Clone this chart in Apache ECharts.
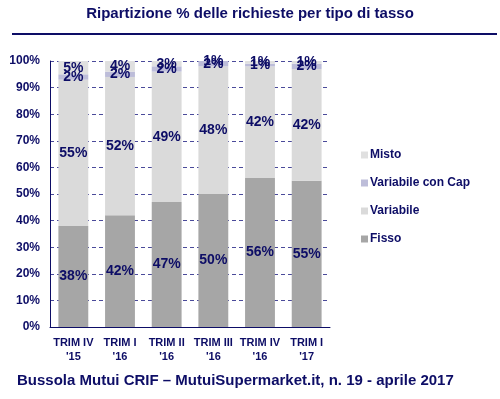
<!DOCTYPE html>
<html>
<head>
<meta charset="utf-8">
<script src="https://cdn.jsdelivr.net/npm/echarts@6/dist/echarts.min.js"></script>
<style>
  html, body { margin: 0; padding: 0; background: #fff; }
  #chart { width: 500px; height: 399px; }
</style>
</head>
<body>
<div id="chart"></div>
<script>
// Quarters on the x axis
const quarters = ["TRIM IV\n'15", "TRIM I\n'16", "TRIM II\n'16", "TRIM III\n'16", "TRIM IV\n'16", "TRIM I\n'17"];

// Share of requests by rate type (%)
const fisso = [38, 42, 47, 50, 56, 55];
const variabile = [55, 52, 49, 48, 42, 42];
const variabileCap = [2, 2, 2, 2, 1, 2];
const misto = [5, 4, 3, 1, 1, 1];

const yTicks = [0, 10, 20, 30, 40, 50, 60, 70, 80, 90, 100];

const navy = "#0d0d66";
const font = "'Liberation Sans', Arial, sans-serif";

const chart = echarts.init(document.getElementById("chart"));

const labelStyle = {
  show: true,
  position: "inside",
  formatter: "{c}%",
  color: navy,
  fontFamily: font,
  fontWeight: "bold",
  fontSize: 14,
};

function barSeries(name, data, color) {
  return {
    name: name,
    type: "bar",
    stack: "total",
    barWidth: "64%",
    data: data,
    itemStyle: { color: color },
    label: labelStyle,
  };
}

const option = {
  animation: false,
  textStyle: { fontFamily: font },
  grid: { left: 50, right: 170, top: 61, bottom: 72 },
  legend: {
    orient: "vertical",
    left: 356,
    top: 144,
    itemWidth: 7,
    itemHeight: 7,
    itemGap: 16,
    icon: "rect",
    data: ["Misto", "Variabile con Cap", "Variabile", "Fisso"],
    textStyle: { color: navy, fontWeight: "bold", fontSize: 12, fontFamily: font, padding: [0, 0, 0, -3] },
  },
  xAxis: {
    type: "category",
    data: quarters,
    axisLine: { lineStyle: { color: navy, width: 1 } },
    axisTick: { show: false },
    axisLabel: {
      color: navy,
      fontWeight: "bold",
      fontSize: 11,
      lineHeight: 14,
      margin: 9,
      interval: 0,
    },
  },
  yAxis: {
    type: "value",
    min: yTicks[0],
    max: yTicks[yTicks.length - 1],
    interval: 10,
    axisLine: { show: true, lineStyle: { color: navy, width: 1 } },
    axisTick: { show: false },
    axisLabel: {
      formatter: "{value}%",
      color: navy,
      fontWeight: "bold",
      fontSize: 12,
      margin: 10,
    },
    splitLine: { lineStyle: { color: "#4a4a9a", type: [4, 3], width: 1 } },
  },
  series: [
    barSeries("Fisso", fisso, "#a6a6a6"),
    barSeries("Variabile", variabile, "#dadada"),
    barSeries("Variabile con Cap", variabileCap, "#bdbdd9"),
    barSeries("Misto", misto, "#e0e0e0"),
  ],
  graphic: [
    {
      type: "text",
      left: "center",
      top: 6,
      style: {
        text: "Ripartizione % delle richieste per tipo di tasso",
        fill: navy,
        font: "bold 15px " + font,
      },
    },
    {
      type: "line",
      shape: { x1: 12, y1: 34, x2: 497, y2: 34 },
      style: { stroke: navy, lineWidth: 2 },
    },
    {
      type: "text",
      left: 17,
      top: 373,
      style: {
        text: "Bussola Mutui CRIF \u2013 MutuiSupermarket.it, n. 19 - aprile 2017",
        fill: navy,
        font: "bold 15px " + font,
      },
    },
  ],
};

chart.setOption(option);
</script>
</body>
</html>
